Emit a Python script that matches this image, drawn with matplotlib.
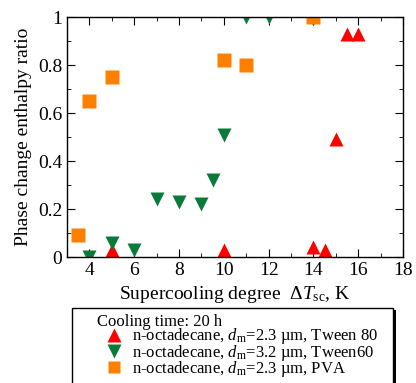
import matplotlib
matplotlib.use("Agg")
import matplotlib.pyplot as plt
from matplotlib.ticker import MultipleLocator
from matplotlib.patches import Rectangle

plt.rcParams['font.family'] = ['Liberation Serif', 'DejaVu Serif']
plt.rcParams['mathtext.fontset'] = 'custom'
plt.rcParams['mathtext.rm'] = 'Liberation Serif'
plt.rcParams['mathtext.it'] = 'Liberation Serif:italic'

# Data
tw80_x = [5, 10, 14, 14.5, 15, 15.5, 16]
tw80_y = [0.03, 0.03, 0.04, 0.03, 0.49, 0.93, 0.93]
tw60_x = [4, 5, 6, 7, 8, 9, 9.5, 10, 11, 12, 14]
tw60_y = [0.0, 0.06, 0.03, 0.24, 0.23, 0.22, 0.32, 0.51, 1.0, 1.0, 0.99]
pva_x = [3.5, 4, 5, 10, 11, 14]
pva_y = [0.09, 0.65, 0.75, 0.82, 0.80, 1.0]

labels = [r"n-octadecane, $d_{\rm m}$=2.3 µm, Tween 80",
          r"n-octadecane, $d_{\rm m}$=3.2 µm, Tween60",
          r"n-octadecane, $d_{\rm m}$=2.3 µm, PVA"]

W, H = 416, 383
fig = plt.figure(figsize=(W/100, H/100), dpi=100)
ax = fig.add_axes([67/W, 1-257/H, (403-67)/W, (257-17)/H])

h1, = ax.plot(tw80_x, tw80_y, '^', color='#ff0000', ms=10.5, mec='none', label=labels[0])
h2, = ax.plot(tw60_x, tw60_y, 'v', color='#0a7a3a', ms=10.5, mec='none', label=labels[1])
h3, = ax.plot(pva_x, pva_y, 's', color='#ff8000', ms=9.5, mec='none', label=labels[2])

ax.set_xlim(3, 18)
ax.set_ylim(0, 1)
ax.xaxis.set_major_locator(MultipleLocator(2))
ax.xaxis.set_minor_locator(MultipleLocator(1))
ax.yaxis.set_minor_locator(MultipleLocator(0.1))
ax.set_yticks([0, 0.2, 0.4, 0.6, 0.8, 1.0])
ax.set_yticklabels(['0', '0.2', '0.4', '0.6', '0.8', '1'])
ax.tick_params(which='both', direction='in', top=True, right=True, labelsize=14)
ax.tick_params(which='major', length=6)
ax.tick_params(which='minor', length=3)
for s in ax.spines.values():
    s.set_linewidth(1.0)

ax.set_xlabel(r"Supercooling degree  $\Delta T_{\rm sc}$, K", fontsize=14, labelpad=4)
ax.set_ylabel("Phase change enthalpy ratio", fontsize=14, labelpad=4)

# Legend frame with shadow
fig.patches.append(Rectangle((76/W, -0.05), 320/W, (H-310)/H + 0.05,
                             transform=fig.transFigure, facecolor='black',
                             edgecolor='none', zorder=0))
fig.patches.append(Rectangle((72/W, -0.05), 321/W, (H-308)/H + 0.05,
                             transform=fig.transFigure, facecolor='white',
                             edgecolor='black', linewidth=1.0, zorder=1))

leg = fig.legend(handles=[h1, h2, h3], labels=labels, title="Cooling time: 20 h",
                 loc='upper left', bbox_to_anchor=(97/W, 1-314/H),
                 fontsize=12, title_fontsize=12, frameon=False,
                 borderpad=0.0, borderaxespad=0.0, handletextpad=0.1,
                 labelspacing=-0.22, handlelength=2.0, markerscale=0.9)
leg._legend_box.align = 'left'
leg.set_zorder(3)

fig.savefig('out.png', dpi=100)
